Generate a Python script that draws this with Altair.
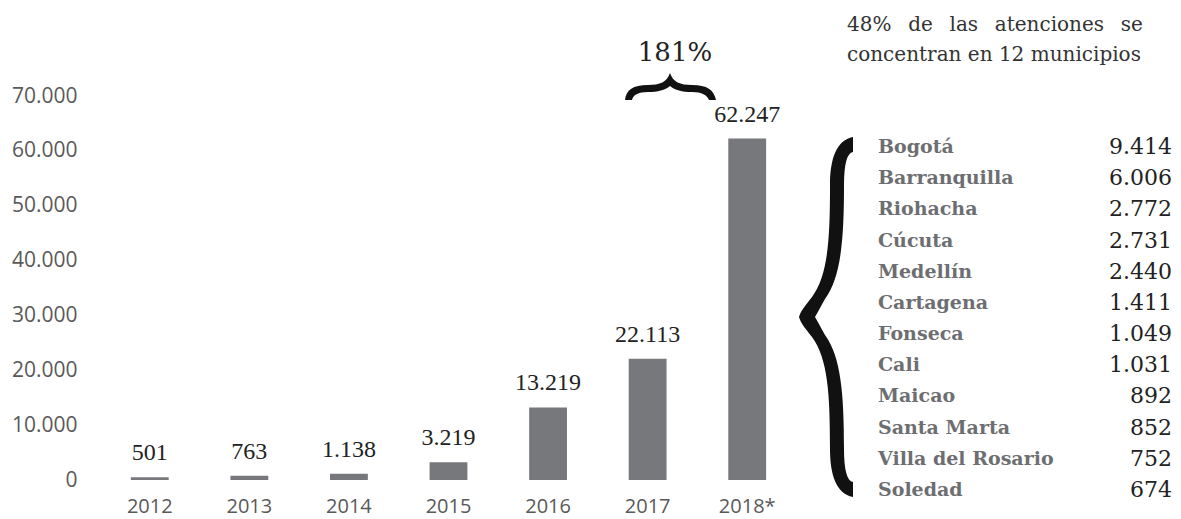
import altair as alt
import pandas as pd

# ---- data ----
years = ["2012", "2013", "2014", "2015", "2016", "2017", "2018*"]
atenciones = [501, 763, 1138, 3219, 13219, 22113, 62247]
municipios = ["Bogotá", "Barranquilla", "Riohacha", "Cúcuta", "Medellín", "Cartagena",
              "Fonseca", "Cali", "Maicao", "Santa Marta", "Villa del Rosario", "Soledad"]
mun_values = [9414, 6006, 2772, 2731, 2440, 1411, 1049, 1031, 892, 852, 752, 674]
y_ticks = [0, 10000, 20000, 30000, 40000, 50000, 60000, 70000]
growth_label = "181%"
header_line1 = "48%", "de", "las", "atenciones", "se"
header_line2 = "concentran en 12 municipios"


def fmt(v):
    return f"{v:,}".replace(",", ".")


bars_df = pd.DataFrame({"year": years, "value": atenciones,
                        "label": [fmt(v) for v in atenciones]})
mun_df = pd.DataFrame({"municipio": municipios, "valor": mun_values,
                       "label": [fmt(v) for v in mun_values]})
one = pd.DataFrame({"k": [0]})

# ---- decorative braces as custom symbol paths (unit = 100 px) ----
def make_path(cmds, cx, cy, unit=100.0):
    out = []
    for c, pts in cmds:
        s = c
        for (x, y) in pts:
            s += " %.4f %.4f" % ((x - cx) / unit, (y - cy) / unit)
        out.append(s)
    return " ".join(out)

big_brace_cmds = [
    ("M", [(853, 137)]),
    ("C", [(836, 140), (830, 160), (830, 185)]),
    ("C", [(830, 240), (828, 275), (812, 297)]),
    ("C", [(806, 305), (801, 310), (799, 317)]),
    ("C", [(801, 324), (806, 329), (812, 337)]),
    ("C", [(828, 359), (830, 394), (830, 449)]),
    ("C", [(830, 474), (836, 494), (853, 497)]),
    ("L", [(853, 482)]),
    ("C", [(847, 481), (844, 470), (844, 449)]),
    ("C", [(844, 394), (841, 357), (825, 335)]),
    ("C", [(821, 328), (818, 322), (815, 317)]),
    ("C", [(818, 312), (821, 306), (825, 299)]),
    ("C", [(841, 277), (844, 240), (844, 185)]),
    ("C", [(844, 164), (847, 153), (853, 152)]),
    ("Z", []),
]
top_brace_cmds = [
    ("M", [(625, 100)]),
    ("C", [(626, 90), (633, 85), (648, 85)]),
    ("C", [(660, 85), (667, 82), (670, 73)]),
    ("C", [(673, 82), (680, 85), (692, 85)]),
    ("C", [(707, 85), (714, 90), (716, 100)]),
    ("L", [(709, 100)]),
    ("C", [(707, 95), (702, 92), (692, 92)]),
    ("C", [(682, 92), (675, 90), (670, 86)]),
    ("C", [(665, 90), (658, 92), (648, 92)]),
    ("C", [(638, 92), (633, 95), (632, 100)]),
    ("Z", []),
]
PL, PT = 100, 96  # plot origin on the page
big_path = make_path(big_brace_cmds, 826, 317)
top_path = make_path(top_brace_cmds, 670, 87)

W, H = 697, 384
SANS = "Open Sans"
SERIF = "DejaVu Serif"

x_enc = alt.X("year:N", sort=years,
              scale=alt.Scale(paddingInner=0.62, paddingOuter=0.31),
              axis=alt.Axis(title=None, labelAngle=0, ticks=False, domain=False, grid=False,
                            labelFont=SANS, labelFontSize=20, labelColor="#595959",
                            labelPadding=16))
y_scale = alt.Scale(domain=[0, 70000], nice=False)
y_enc = alt.Y("value:Q", scale=y_scale,
              axis=alt.Axis(title=None, values=y_ticks, ticks=False, domain=False, grid=False,
                            labelExpr="replace(datum.label, ',', '.')",
                            labelFont=SANS, labelFontSize=21, labelColor="#595959",
                            labelPadding=23))

bars = alt.Chart(bars_df).mark_bar(color="#77787b").encode(x=x_enc, y=y_enc)
bar_labels = alt.Chart(bars_df).mark_text(
    font="Liberation Serif", fontSize=24, color="#222222", baseline="alphabetic", dy=-17
).encode(x=alt.X("year:N", sort=years),
         y=alt.Y("value:Q", scale=y_scale, axis=None),
         text="label:N")

row_y = alt.Y("municipio:N", sort=municipios,
              scale=alt.Scale(type="point", range=[51, 394], padding=0), axis=None)
names = alt.Chart(mun_df).mark_text(
    font=SERIF, fontWeight="bold", fontSize=19, color="#6d6e71", align="left", baseline="middle"
).encode(x=alt.value(778), y=row_y, text="municipio:N")
vals = alt.Chart(mun_df).mark_text(
    font=SERIF, fontSize=22, color="#222222", align="right", baseline="middle"
).encode(x=alt.value(1072), y=row_y, text="label:N")

big_brace = alt.Chart(one).mark_point(
    shape=big_path, filled=True, size=40000, color="#111111", opacity=1, strokeWidth=0
).encode(x=alt.value(826 - PL), y=alt.value(317 - PT))
top_brace = alt.Chart(one).mark_point(
    shape=top_path, filled=True, size=40000, color="#111111", opacity=1, strokeWidth=0
).encode(x=alt.value(670 - PL), y=alt.value(87 - PT))

growth = alt.Chart(one).mark_text(
    text=growth_label, font=SERIF, fontSize=26, color="#222222", align="center", baseline="middle"
).encode(x=alt.value(675 - PL), y=alt.value(53 - PT))

gap = "\u00a0\u00a0\u2009"
head1 = alt.Chart(one).mark_text(
    text=gap.join(header_line1), font=SERIF, fontSize=20, color="#333333",
    align="left", baseline="middle"
).encode(x=alt.value(847 - PL), y=alt.value(25 - PT))
head2 = alt.Chart(one).mark_text(
    text=header_line2, font=SERIF, fontSize=20, color="#333333",
    align="left", baseline="middle"
).encode(x=alt.value(847 - PL), y=alt.value(55 - PT))

chart = alt.layer(
    bars, bar_labels, names, vals, big_brace, top_brace, growth, head1, head2
).resolve_scale(y="independent").properties(
    width=W, height=H,
    background="white",
    autosize=alt.AutoSizeParams(type="none"),
    padding={"left": PL - 8, "top": PT - 8, "right": 376, "bottom": 42},
).configure_view(strokeWidth=0, stroke="transparent")

chart.save("out.html", embed_options={"renderer": "svg", "actions": False})
